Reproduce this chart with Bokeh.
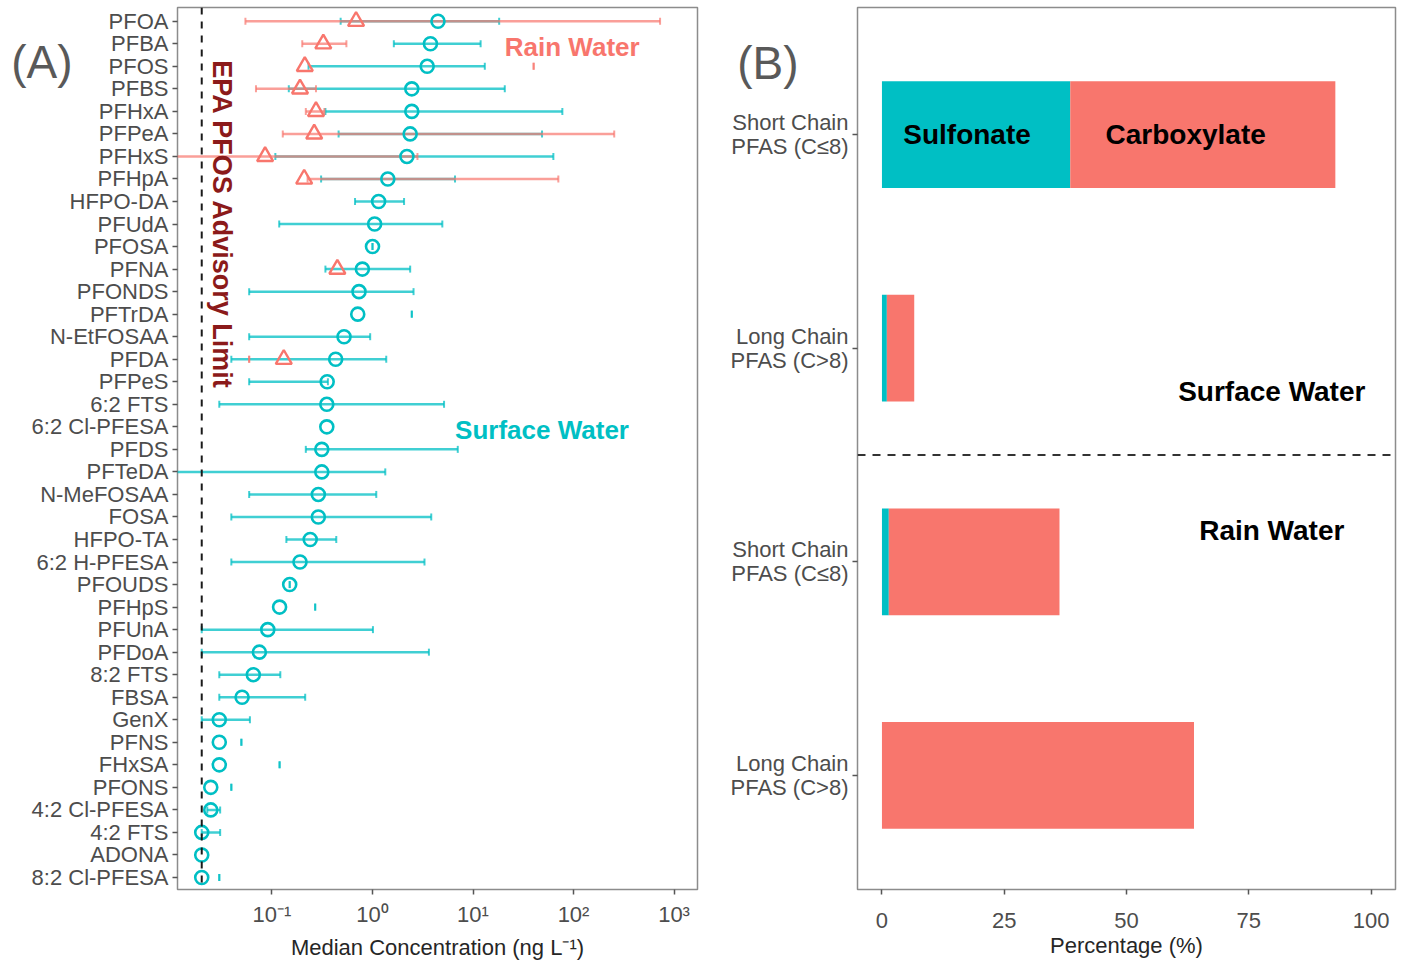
import math
from bokeh.plotting import figure
from bokeh.models import (ColumnDataSource, Range1d, FixedTicker, Whisker, TeeHead, Span, Label,
                          LinearAxis)
from bokeh.layouts import row
from bokeh.embed import file_html
from bokeh.resources import INLINE

# ---------------- data: panel A ----------------
compounds = ["PFOA", "PFBA", "PFOS", "PFBS", "PFHxA", "PFPeA", "PFHxS", "PFHpA", "HFPO-DA", "PFUdA",
             "PFOSA", "PFNA", "PFONDS", "PFTrDA", "N-EtFOSAA", "PFDA", "PFPeS", "6:2 FTS", "6:2 Cl-PFESA",
             "PFDS", "PFTeDA", "N-MeFOSAA", "FOSA", "HFPO-TA", "6:2 H-PFESA", "PFOUDS", "PFHpS", "PFUnA",
             "PFDoA", "8:2 FTS", "FBSA", "GenX", "PFNS", "FHxSA", "PFONS", "4:2 Cl-PFESA", "4:2 FTS",
             "ADONA", "8:2 Cl-PFESA"]

sw_median = [4.48, 3.77, 3.50, 2.46, 2.46, 2.37, 2.20, 1.42, 1.15, 1.05,
             1.00, 0.793, 0.734, 0.713, 0.521, 0.430, 0.354, 0.351, 0.351,
             0.313, 0.313, 0.289, 0.289, 0.240, 0.190, 0.150, 0.119, 0.0908,
             0.0749, 0.0652, 0.0504, 0.0299, 0.0299, 0.0299, 0.0246, 0.0246, 0.020,
             0.020, 0.020]
sw_low = [0.482, 1.63, 0.231, 0.147, 0.340, 0.460, 0.108, 0.308, 0.670, 0.118,
          1.00, 0.340, 0.0593, 2.46, 0.0593, 0.0394, 0.0593, 0.0299, None,
          0.217, 0.011, 0.0593, 0.0394, 0.139, 0.0394, 0.150, 0.269, 0.020,
          0.020, 0.0299, 0.0299, 0.020, 0.0496, 0.119, 0.0394, 0.0227, 0.020,
          None, 0.0299]
sw_high = [18.2, 11.9, 13.1, 20.7, 77.4, 48.6, 63.0, 6.62, 2.06, 4.95,
           1.00, 2.37, 2.56, 2.46, 0.948, 1.37, 0.36, 5.15, None,
           7.05, 1.34, 1.09, 3.84, 0.436, 3.29, 0.150, 0.269, 1.01,
           3.64, 0.121, 0.214, 0.0603, 0.0496, 0.119, 0.0394, 0.0305, 0.0305,
           None, 0.0299]

rw_median = [0.686, 0.324, 0.212, 0.190, 0.274, 0.263, 0.0854, 0.209, None, None,
             None, 0.447, None, None, None, 0.131] + [None] * 23
rw_low = [0.0544, 0.200, 40.1, 0.0693, 0.217, 0.128, 0.011, 0.226, None, None,
          None, None, None, None, None, 0.0593] + [None] * 23
rw_high = [726, 0.550, 40.1, 0.274, 0.332, 254, 2.80, 70.6, None, None,
           None, None, None, None, None, 0.0593] + [None] * 23

epa_limit = 0.02
log_ticks = [0.1, 1, 10, 100, 1000]
log_tick_labels = ["10⁻¹", "10⁰", "10¹", "10²", "10³"]

# ---------------- data: panel B ----------------
chain_labels = ["Short Chain\nPFAS (C≤8)", "Long Chain\nPFAS (C>8)",
                "Short Chain\nPFAS (C≤8)", "Long Chain\nPFAS (C>8)"]
water_type = ["Surface Water", "Surface Water", "Rain Water", "Rain Water"]
sulfonate_pct = [38.5, 1.0, 1.4, 0.0]
carboxylate_pct = [54.2, 5.6, 34.9, 63.8]
pct_ticks = [0, 25, 50, 75, 100]

# ---------------- style ----------------
FONT = "Liberation Sans"
CYAN = "#00BFC4"
RED = "#F8766D"
TICK_COL = "#4D4D4D"
TITLE_COL = "#262626"
TAG_COL = "#595959"


def style_axes(p):
    p.outline_line_color = "#8C8C8C"
    p.outline_line_width = 1.5
    p.xgrid.visible = False
    p.ygrid.visible = False
    p.background_fill_color = "white"
    p.border_fill_color = "white"
    for ax in p.xaxis + p.yaxis:
        ax.axis_line_color = None
        ax.major_tick_line_color = "#555555"
        ax.major_tick_line_width = 1.5
        ax.major_tick_out = 5
        ax.major_tick_in = 0
        ax.minor_tick_line_color = None
        ax.major_label_text_font = FONT
        ax.major_label_text_font_size = "22px"
        ax.major_label_text_color = TICK_COL
        ax.major_label_standoff = 4
        ax.axis_label_text_font = FONT
        ax.axis_label_text_font_size = "22px"
        ax.axis_label_text_font_style = "normal"
        ax.axis_label_text_color = TITLE_COL


def panel_tag(p, y, text, standoff):
    # an extra, outer left axis that carries only the panel tag as its single label
    tag = LinearAxis(ticker=FixedTicker(ticks=[y]), major_label_overrides={y: text},
                     axis_line_color=None, major_tick_line_color=None, minor_tick_line_color=None,
                     major_tick_out=0, major_tick_in=0, minor_tick_out=0, minor_tick_in=0,
                     major_label_standoff=standoff, major_label_text_font=FONT,
                     major_label_text_font_size="46px", major_label_text_color=TAG_COL)
    p.add_layout(tag, "left")


# ================= Panel A =================
n = len(compounds)
ypos = [n - i for i in range(n)]

pa = figure(x_axis_type="log", x_range=Range1d(0.01148, 1711), y_range=Range1d(0.467, 39.61),
            frame_width=520, frame_height=882, min_border_left=177, min_border_right=18,
            min_border_top=7, min_border_bottom=74, output_backend="svg", toolbar_location=None)
style_axes(pa)

pa.xaxis.ticker = FixedTicker(ticks=log_ticks)
pa.xaxis.major_label_overrides = {t: lab for t, lab in zip(log_ticks, log_tick_labels)}
pa.xaxis.major_label_standoff = 7
pa.xaxis.axis_label = "Median Concentration (ng L⁻¹)"
pa.xaxis.axis_label_standoff = 5
pa.yaxis.ticker = FixedTicker(ticks=ypos)
pa.yaxis.major_label_overrides = {y: c for y, c in zip(ypos, compounds)}
panel_tag(pa, 37.2, "(A)", -44)

# EPA advisory limit
pa.add_layout(Span(location=epa_limit, dimension="height", line_color="#1A1A1A",
                   line_width=2, line_dash="7 7"))

# surface water error bars
sw_idx = [i for i in range(n) if sw_low[i] is not None]
sw_err = ColumnDataSource(dict(y=[ypos[i] for i in sw_idx],
                               lo=[sw_low[i] for i in sw_idx],
                               hi=[sw_high[i] for i in sw_idx]))
pa.add_layout(Whisker(source=sw_err, base="y", lower="lo", upper="hi", dimension="width",
                      line_color=CYAN, line_alpha=0.75, line_width=2.5,
                      lower_head=TeeHead(size=7, line_color=CYAN, line_alpha=0.75, line_width=2),
                      upper_head=TeeHead(size=7, line_color=CYAN, line_alpha=0.75, line_width=2)))

# rain water error bars
rw_idx = [i for i in range(n) if rw_low[i] is not None]
rw_err = ColumnDataSource(dict(y=[ypos[i] for i in rw_idx],
                               lo=[rw_low[i] for i in rw_idx],
                               hi=[rw_high[i] for i in rw_idx]))
pa.add_layout(Whisker(source=rw_err, base="y", lower="lo", upper="hi", dimension="width",
                      line_color=RED, line_alpha=0.7, line_width=2.5,
                      lower_head=TeeHead(size=7, line_color=RED, line_alpha=0.7, line_width=2),
                      upper_head=TeeHead(size=7, line_color=RED, line_alpha=0.7, line_width=2)))

# medians
sw_src = ColumnDataSource(dict(x=sw_median, y=ypos))
pa.scatter("x", "y", source=sw_src, marker="circle", size=13, fill_color=None,
           line_color=CYAN, line_width=2.6)
rm_idx = [i for i in range(n) if rw_median[i] is not None]
rw_src = ColumnDataSource(dict(x=[rw_median[i] for i in rm_idx], y=[ypos[i] for i in rm_idx]))
pa.scatter("x", "y", source=rw_src, marker="triangle", size=16, fill_color=None,
           line_color=RED, line_width=2.4)

pa.add_layout(Label(x=97, y=37.85, text="Rain Water", text_font=FONT, text_font_size="26px",
                    text_font_style="bold", text_color=RED, text_align="center",
                    text_baseline="middle"))
pa.add_layout(Label(x=48.6, y=20.85, text="Surface Water", text_font=FONT, text_font_size="26px",
                    text_font_style="bold", text_color=CYAN, text_align="center",
                    text_baseline="middle"))
pa.add_layout(Label(x=0.032, y=37.27, text="EPA PFOS Advisory Limit", angle=-math.pi / 2,
                    text_font=FONT, text_font_size="27px", text_font_style="bold",
                    text_color="#8B1A1A", text_align="left", text_baseline="middle"))

# ================= Panel B =================
nb = len(chain_labels)
ybar = [nb - i for i in range(nb)]

pb = figure(x_range=Range1d(-5, 105), y_range=Range1d(0.466, 4.595),
            frame_width=538, frame_height=882, min_border_left=142, min_border_right=10,
            min_border_top=7, min_border_bottom=74, output_backend="svg", toolbar_location=None)
style_axes(pb)
pb.xaxis.ticker = FixedTicker(ticks=pct_ticks)
pb.xaxis.major_label_standoff = 18
pb.xaxis.axis_label = "Percentage (%)"
pb.xaxis.axis_label_standoff = 2
pb.yaxis.ticker = FixedTicker(ticks=ybar)
pb.yaxis.major_label_overrides = {y: c for y, c in zip(ybar, chain_labels)}
pb.yaxis.major_label_text_line_height = 0.95
panel_tag(pb, 4.333, "(B)", -71)

bsrc = ColumnDataSource(dict(y=ybar, Sulfonate=sulfonate_pct, Carboxylate=carboxylate_pct,
                             water=water_type))
pb.hbar_stack(["Sulfonate", "Carboxylate"], y="y", height=0.5, source=bsrc,
              color=[CYAN, RED], line_color=None)

pb.add_layout(Span(location=2.5, dimension="width", line_color="#333333", line_width=2,
                   line_dash="8 7"))

for txt, xx, yy in [("Sulfonate", 17.4, 4.0), ("Carboxylate", 62.1, 4.0)]:
    pb.add_layout(Label(x=xx, y=yy, text=txt, text_font=FONT, text_font_size="28px",
                        text_font_style="bold", text_color="black", text_align="center",
                        text_baseline="middle"))
for txt, yy in [("Surface Water", 2.795), ("Rain Water", 2.148)]:
    pb.add_layout(Label(x=79.7, y=yy, text=txt, text_font=FONT, text_font_size="28px",
                        text_font_style="bold", text_color="black", text_align="center",
                        text_baseline="middle"))

layout = row(pa, pb)
open("out.html", "w").write(file_html(layout, INLINE))
